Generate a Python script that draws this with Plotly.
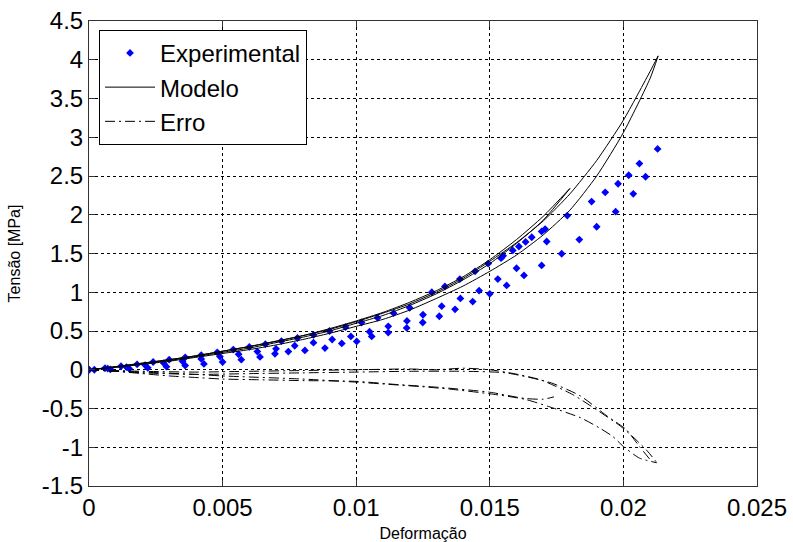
import plotly.graph_objects as go

# ---------------- data ----------------
# Experimental: loading branch, cycle 1
exp1_x = [0, 0.0006, 0.0012, 0.0018, 0.0024, 0.0030, 0.0036, 0.0042, 0.0048, 0.0054,
          0.0060, 0.0066, 0.0072, 0.0078, 0.0084, 0.0090, 0.0096, 0.0102, 0.0108, 0.0114,
          0.0120, 0.01283, 0.01332, 0.01388, 0.01445, 0.01494, 0.01542, 0.0155, 0.01586,
          0.01609, 0.01634, 0.01657, 0.01694, 0.01707, 0.0179]
exp1_y = [0, 0.02, 0.045, 0.07, 0.10, 0.13, 0.16, 0.19, 0.225, 0.26,
          0.295, 0.33, 0.37, 0.41, 0.45, 0.50, 0.55, 0.61, 0.67, 0.73,
          0.80, 1.00, 1.075, 1.17, 1.27, 1.37, 1.44, 1.47, 1.54,
          1.59, 1.65, 1.71, 1.785, 1.815, 1.99]
# Experimental: loading branch, cycle 2
exp2_x = [0, 0.0007, 0.0014, 0.0021, 0.0028, 0.0035, 0.0042, 0.0049, 0.0056, 0.0063,
          0.0070, 0.0077, 0.0084, 0.0091, 0.0098, 0.0105, 0.0112, 0.0119, 0.0125, 0.0132,
          0.0139, 0.0146, 0.0153, 0.0160, 0.01713, 0.01881, 0.01932, 0.0198, 0.0202,
          0.0206, 0.02128]
exp2_y = [0, 0.015, 0.035, 0.06, 0.085, 0.11, 0.14, 0.17, 0.20, 0.235,
          0.27, 0.31, 0.35, 0.39, 0.43, 0.49, 0.56, 0.63, 0.71, 0.82,
          0.92, 1.02, 1.17, 1.31, 1.655, 2.17, 2.29, 2.40, 2.51,
          2.66, 2.85]
# Experimental: unloading branch, cycle 2
exp3_x = [0.02083, 0.02037, 0.01971, 0.0190, 0.01835, 0.01769, 0.01694, 0.01628, 0.01563,
          0.0150, 0.01436, 0.0137, 0.01311, 0.01249, 0.01189, 0.0112, 0.01058, 0.01002,
          0.00946, 0.00883, 0.00808, 0.00746, 0.00696, 0.0064, 0.0057, 0.0050, 0.0043,
          0.0036, 0.0029, 0.0022, 0.0015, 0.0008, 0.0002]
exp3_y = [2.49, 2.27, 2.04, 1.845, 1.68, 1.497, 1.346, 1.217, 1.088,
          0.98, 0.88, 0.78, 0.69, 0.61, 0.54, 0.48, 0.43, 0.365,
          0.34, 0.28, 0.25, 0.235, 0.205, 0.165, 0.13, 0.10, 0.075,
          0.055, 0.04, 0.025, 0.015, 0.005, 0.0]

# Model curves
mod1_x = [0, 0.001, 0.002, 0.003, 0.004, 0.005, 0.006, 0.007, 0.008, 0.009, 0.010,
          0.011, 0.012, 0.013, 0.014, 0.015, 0.016, 0.017, 0.018]
mod1_y = [0, 0.04, 0.085, 0.13, 0.18, 0.24, 0.30, 0.37, 0.44, 0.53, 0.63,
          0.74, 0.87, 1.02, 1.20, 1.42, 1.68, 1.98, 2.34]
mod2_x = [0.018, 0.017, 0.016, 0.015, 0.014, 0.013, 0.012, 0.011, 0.010, 0.009,
          0.008, 0.007, 0.006, 0.005, 0.004, 0.003, 0.002, 0.001, 0]
mod2_y = [2.34, 1.93, 1.63, 1.37, 1.16, 0.98, 0.83, 0.70, 0.60, 0.50,
          0.42, 0.35, 0.28, 0.225, 0.17, 0.12, 0.08, 0.035, 0]
mod3_x = [0, 0.001, 0.002, 0.003, 0.004, 0.005, 0.006, 0.007, 0.008, 0.009, 0.010,
          0.011, 0.012, 0.013, 0.014, 0.015, 0.016, 0.017, 0.018, 0.019, 0.020, 0.021, 0.0213]
mod3_y = [0, 0.04, 0.085, 0.13, 0.18, 0.24, 0.30, 0.365, 0.44, 0.52, 0.62,
          0.73, 0.85, 1.00, 1.18, 1.40, 1.64, 1.92, 2.27, 2.70, 3.22, 3.85, 4.05]
mod4_x = [0.0213, 0.021, 0.020, 0.019, 0.018, 0.017, 0.016, 0.015, 0.014, 0.013, 0.012,
          0.011, 0.010, 0.009, 0.008, 0.007, 0.006, 0.005, 0.004, 0.003, 0.002, 0.001, 0]
mod4_y = [4.05, 3.76, 3.06, 2.50, 2.06, 1.74, 1.48, 1.27, 1.08, 0.92, 0.77,
          0.65, 0.56, 0.47, 0.39, 0.32, 0.26, 0.21, 0.16, 0.11, 0.07, 0.03, 0]

# Error curves
err1_x = [0, 0.002, 0.004, 0.006, 0.008, 0.010, 0.012, 0.013, 0.014, 0.015, 0.0159,
          0.0169, 0.0181, 0.0191, 0.0199, 0.0204, 0.0209, 0.0213]
err1_y = [0, -0.02, -0.03, -0.02, -0.01, 0.0, 0.01, 0.0, 0.02, 0.0, -0.05,
          -0.13, -0.32, -0.54, -0.73, -0.88, -1.05, -1.22]
err2_x = [0, 0.002, 0.004, 0.006, 0.008, 0.010, 0.012, 0.014, 0.0156, 0.0173,
          0.0184, 0.0194, 0.0201, 0.0206, 0.0210]
err2_y = [0, -0.04, -0.06, -0.05, -0.04, -0.03, -0.02, -0.02, -0.04, -0.17,
          -0.34, -0.60, -0.77, -0.99, -1.16]
err3_x = [0, 0.001, 0.002, 0.003, 0.004, 0.005, 0.0065, 0.008, 0.010, 0.0115,
          0.0132, 0.015, 0.0163, 0.0170, 0.0174]
err3_y = [0, -0.02, -0.05, -0.08, -0.10, -0.12, -0.13, -0.14, -0.15, -0.19,
          -0.23, -0.29, -0.37, -0.38, -0.35]
err4_x = [0, 0.002, 0.004, 0.005, 0.008, 0.010, 0.0125, 0.0135, 0.015, 0.0163,
          0.01725, 0.0184, 0.0191, 0.0196, 0.0200, 0.0206, 0.02125]
err4_y = [0, -0.03, -0.06, -0.08, -0.12, -0.16, -0.22, -0.25, -0.31, -0.38,
          -0.48, -0.62, -0.75, -0.86, -0.99, -1.14, -1.20]

x_ticks = [0, 0.005, 0.01, 0.015, 0.02, 0.025]
x_tick_labels = ["0", "0.005", "0.01", "0.015", "0.02", "0.025"]
y_ticks = [-1.5, -1, -0.5, 0, 0.5, 1, 1.5, 2, 2.5, 3, 3.5, 4, 4.5]
y_tick_labels = ["-1.5", "-1", "-0.5", "0", "0.5", "1", "1.5", "2", "2.5", "3", "3.5", "4", "4.5"]

# ---------------- figure ----------------
fig = go.Figure()
FONT = "Liberation Sans, Arial, sans-serif"

for i, (xs, ys) in enumerate([(exp1_x, exp1_y), (exp2_x, exp2_y), (exp3_x, exp3_y)]):
    fig.add_trace(go.Scatter(
        x=xs, y=ys, mode="markers", name="Experimental",
        marker=dict(symbol="diamond", size=6, color="#0000ff", line=dict(width=0)),
        legendgroup="exp", showlegend=(i == 0)))

for i, (xs, ys) in enumerate([(mod1_x, mod1_y), (mod2_x, mod2_y), (mod3_x, mod3_y), (mod4_x, mod4_y)]):
    fig.add_trace(go.Scatter(
        x=xs, y=ys, mode="lines", name="Modelo",
        line=dict(color="black", width=1, shape="spline", smoothing=0.6),
        legendgroup="mod", showlegend=(i == 0)))

for i, (xs, ys) in enumerate([(err1_x, err1_y), (err2_x, err2_y), (err3_x, err3_y), (err4_x, err4_y)]):
    fig.add_trace(go.Scatter(
        x=xs, y=ys, mode="lines", name="Erro",
        line=dict(color="black", width=1, dash="10px,4px,2px,4px", shape="spline", smoothing=0.6),
        legendgroup="err", showlegend=(i == 0)))

axis_common = dict(
    showline=True, linecolor="#333333", linewidth=1, mirror="ticks",
    ticks="inside", ticklen=6, tickcolor="#333333",
    showgrid=True, gridcolor="black", gridwidth=1, griddash="3px,3px",
    zeroline=False, automargin=False,
    tickfont=dict(family=FONT, size=24, color="black"),
)

fig.update_xaxes(range=[0, 0.025], tickvals=x_ticks, ticktext=x_tick_labels,
                 title=dict(text="Deformação", font=dict(family=FONT, size=16, color="black"), standoff=10),
                 **axis_common)
fig.update_yaxes(range=[-1.5, 4.5], tickvals=y_ticks, ticktext=y_tick_labels,
                 title=dict(text="Tensão [MPa]", font=dict(family=FONT, size=16, color="black"), standoff=17),
                 **axis_common)

fig.update_layout(
    width=793, height=542,
    margin=dict(l=89, r=36, t=21, b=56),
    paper_bgcolor="white", plot_bgcolor="white",
    font=dict(family=FONT, color="black"),
    legend=dict(x=0.015, y=0.981, xanchor="left", yanchor="top",
                bgcolor="white", bordercolor="black", borderwidth=1,
                font=dict(family=FONT, size=24, color="black"),
                traceorder="grouped", tracegroupgap=0, itemwidth=50),
)

# remove the browser's default 8px body margin so the figure fills the window
fig.write_html("out.html",
               config={"displayModeBar": False},
               post_script="document.body.style.margin='0px';document.body.style.overflow='hidden';")
